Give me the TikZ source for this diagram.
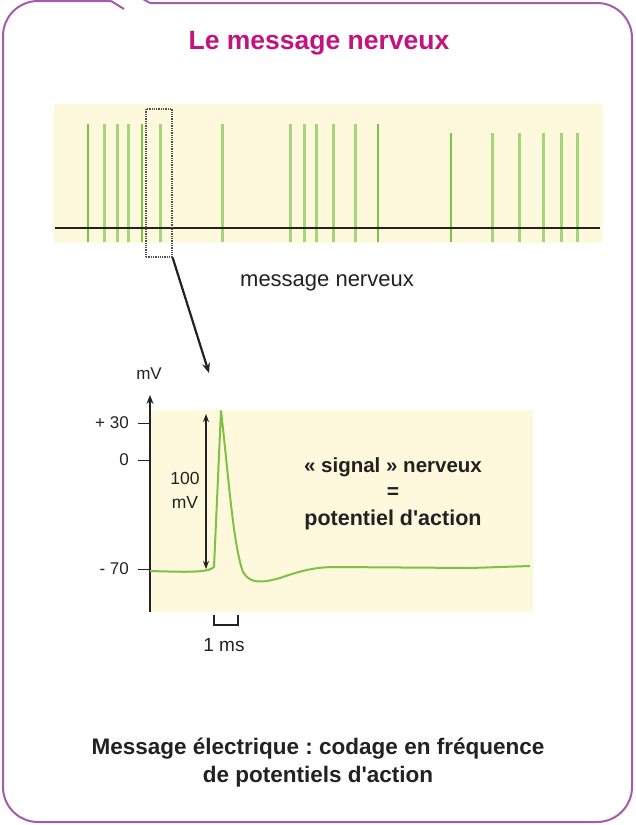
\documentclass[tikz,border=0pt]{standalone}
\usepackage{fontspec}
\setmainfont{Liberation Sans}[Ligatures=TeXOff]
\usetikzlibrary{arrows.meta}
\definecolor{framepurple}{HTML}{A45BAA}
\definecolor{titlemagenta}{HTML}{C2137F}
\definecolor{paper}{HTML}{FEF8DC}
\definecolor{spikegreen}{HTML}{A6D47A}
\definecolor{spikedark}{HTML}{7DC246}
\definecolor{curvegreen}{HTML}{7DC246}
\definecolor{ink}{HTML}{222222}
\tikzset{
  frameline/.style={draw=framepurple, line width=2pt},
  spike/.style={draw=spikegreen, line width=3pt},
  spikethin/.style={draw=spikedark, line width=2pt},
  selbox/.style={draw=ink!80, densely dotted, line width=1.3pt, inner sep=0, minimum width=26pt, minimum height=148pt},
  bigarrow/.style={draw=ink, line width=2.2pt, -{Stealth[length=10pt,width=8pt]}},
  axis/.style={draw=ink, line width=1.3pt},
  lbl/.style={inner sep=0, font=\fontsize{17}{20}\selectfont, text=ink},
  boldlbl/.style={inner sep=0, font=\fontsize{21}{24}\selectfont\bfseries, text=ink},
}
\frenchspacing
\begin{document}
\begin{tikzpicture}[x=1pt,y=-1pt]
\useasboundingbox (0,0) rectangle (635,825);
% outer frame
\draw[frameline, rounded corners=35pt] (111,1) -- (3,1) -- (3,822) -- (632,822) -- (632,3) -- (150,3);
\draw[frameline] (111,1) -- (124,9);
\draw[frameline] (150,3) -- (143,-1);
% title
\node[inner sep=0, font=\fontsize{26.5}{30}\selectfont\bfseries, text=titlemagenta] (title) at (319,43) {Le message nerveux};
% train of action potentials
\fill[paper] (54,104) rectangle (603,243);
\foreach \x in {104,117,128,160,222,290,304,316,333,355}
  \draw[spike] (\x,124) -- (\x,242);
\foreach \x in {88,142,378}
  \draw[spikethin] (\x,124) -- (\x,242);
\foreach \x in {492,519,543,561,577}
  \draw[spike] (\x,133) -- (\x,242);
\draw[spikethin] (451,133) -- (451,242);
\draw[draw=ink, line width=1.6pt] (55,228) -- (600,228);
\node[selbox] (sel) at (159,183) {};
\node[lbl, font=\fontsize{22}{24}\selectfont] (msg) at (327,283) {message nerveux};
% single action potential
\fill[paper] (150,410) rectangle (533,612);
\coordinate (tip) at (209,373);
\draw[bigarrow] (sel.south east) -- (tip);
\coordinate (axbot) at (150,612);
\coordinate (axtop) at (150,395);
\draw[axis, -{Stealth[length=9pt,width=7pt]}] (axbot) -- (axtop);
\foreach \y/\t in {423/{+ 30},460/{0},569/{- 70}}{
  \draw[axis, line width=1pt] (138,\y) -- (150,\y);
  \node[lbl, anchor=east] at (129,\y) {\t};
}
\node[lbl] (unit) at (149,374) {mV};
\coordinate (top100) at (206,414);
\coordinate (bot100) at (206,569);
\draw[axis, line width=1.5pt, {Stealth[length=8pt,width=6pt]}-{Stealth[length=8pt,width=6pt]}] (top100) -- (bot100);
\node[lbl, align=center, font=\fontsize{17.5}{24}\selectfont] (amp) at (185,490) {100\\mV};
\draw[curvegreen, line width=2pt, line join=round]
  (150,571) .. controls (185,572) and (208,573) .. (214,567)
  -- (221,411)
  .. controls (228,470) and (233,545) .. (243,572)
  .. controls (250,584) and (262,583) .. (280,578)
  .. controls (300,571) and (315,567) .. (335,567)
  -- (470,568) -- (530,566);
\draw[axis, line width=1.3pt] (214,615) -- (214,625) -- (238,625) -- (238,615);
\node[lbl, font=\fontsize{19}{20}\selectfont] (ms) at (224,645) {1 ms};
\node[boldlbl, font=\fontsize{20.5}{24}\selectfont\bfseries] (sig1) at (393,467) {« signal » nerveux};
\node[boldlbl] (sig2) at (393,493) {=};
\node[boldlbl, font=\fontsize{21.5}{24}\selectfont\bfseries] (sig3) at (393,520) {potentiel d'action};
% caption
\node[boldlbl, font=\fontsize{22.5}{26}\selectfont\bfseries] (cap1) at (318,749) {Message électrique : codage en fréquence};
\node[boldlbl, font=\fontsize{22.5}{26}\selectfont\bfseries] (cap2) at (318,777) {de potentiels d'action};
\end{tikzpicture}
\end{document}
